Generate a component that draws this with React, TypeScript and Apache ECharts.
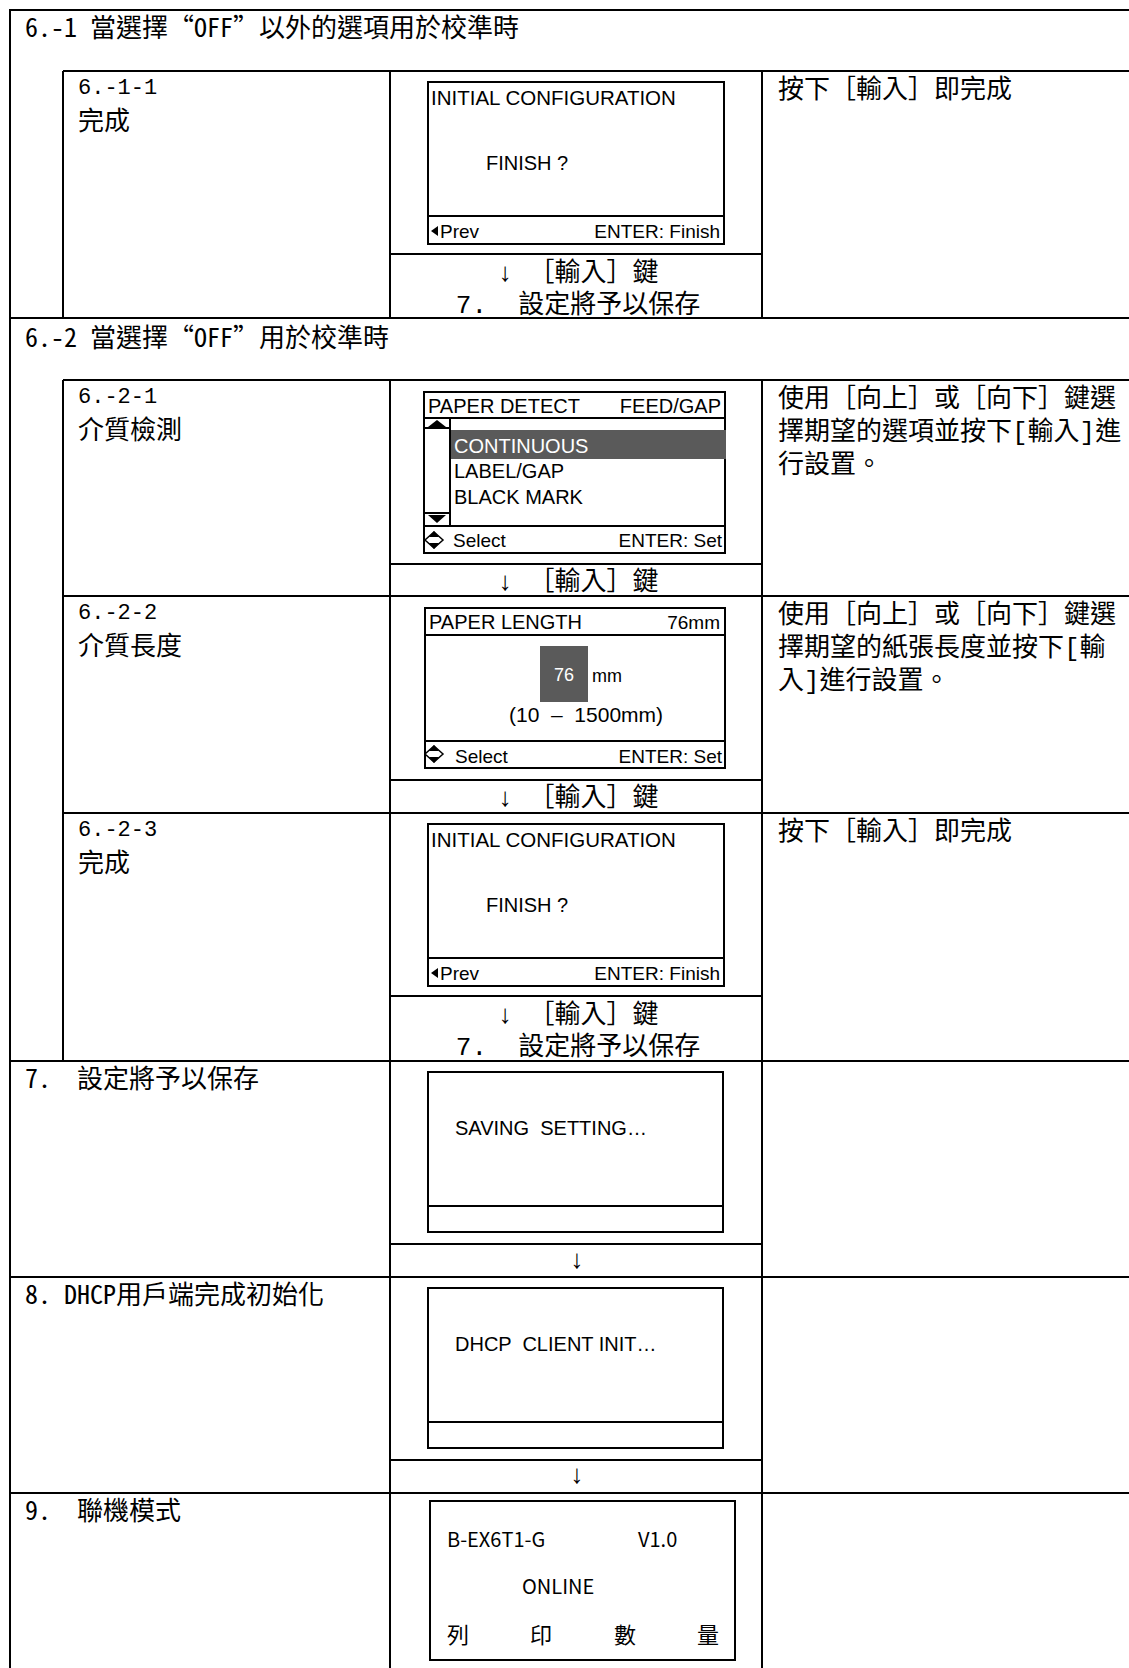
import React, { useEffect, useRef } from "react";
import * as echarts from "echarts";

// ---- content (texts) ----
const sectionHeaders = ["6.-1 當選擇“OFF”以外的選項用於校準時", "6.-2 當選擇“OFF”用於校準時"];
const stepLabels = [
  ["6.-1-1", "完成"],
  ["6.-2-1", "介質檢測"],
  ["6.-2-2", "介質長度"],
  ["6.-2-3", "完成"],
];
const stepNotes = [
  ["按下［輸入］即完成"],
  ["使用［向上］或［向下］鍵選", "擇期望的選項並按下[輸入]進", "行設置。"],
  ["使用［向上］或［向下］鍵選", "擇期望的紙張長度並按下[輸", "入]進行設置。"],
  ["按下［輸入］即完成"],
];
const stepArrows = [
  ["↓ ［輸入］鍵", "7.  設定將予以保存"],
  ["↓ ［輸入］鍵"],
  ["↓ ［輸入］鍵"],
  ["↓ ［輸入］鍵", "7.  設定將予以保存"],
];
const finalLabels = ["7.  設定將予以保存", "8. DHCP用戶端完成初始化", "9.  聯機模式"];
const finalArrows = ["↓", "↓"];
const finishScreen = ["INITIAL CONFIGURATION", "FINISH ?", "Prev", "ENTER: Finish"];
const paperDetectTitle = ["PAPER DETECT", "FEED/GAP"];
const paperDetectOptions = ["CONTINUOUS", "LABEL/GAP", "BLACK MARK"];
const selectFooter = ["Select", "ENTER: Set"];
const paperLengthTitle = ["PAPER LENGTH", "76mm"];
const paperLengthValue = ["76", "mm", "(10  –  1500mm)"];
const statusScreens = ["SAVING  SETTING…", "DHCP  CLIENT INIT…"];
const onlineScreen = ["B-EX6T1-G", "V1.0", "ONLINE"];
const onlineCounter = ["列", "印", "數", "量"];

// ---- layout ----
const W = 1129;
const H = 1668;
const X0 = 10, X1 = 63, XC1 = 390, XC2 = 762, XR = 1129;
const CJK = '"Noto Sans Mono CJK TC", "Noto Sans CJK TC", sans-serif';
const CJKM = '"Liberation Mono", "Noto Sans Mono CJK TC", "Noto Sans CJK TC", sans-serif';
const SANS = '"Liberation Sans", Arial, sans-serif';
const CJKS = '"Noto Sans CJK TC", sans-serif';
const GRAY = "#5a5a5a";
const FS = 26;

export default function App() {
  const ref = useRef<HTMLDivElement>(null);
  useEffect(() => {
    const chart = echarts.init(ref.current!, null, { renderer: "svg" });
    const els: any[] = [];
    const hl = (x1: number, x2: number, y: number, w = 2) =>
      els.push({ type: "line", silent: true, shape: { x1, y1: y, x2, y2: y }, style: { stroke: "#000", lineWidth: w } });
    const vl = (x: number, y1: number, y2: number, w = 2) =>
      els.push({ type: "line", silent: true, shape: { x1: x, y1, x2: x, y2 }, style: { stroke: "#000", lineWidth: w } });
    const box = (x: number, y: number, w: number, h: number, fill = "#fff", stroke: any = "#000") =>
      els.push({ type: "rect", silent: true, shape: { x, y, width: w, height: h }, style: { fill, stroke, lineWidth: 2 } });
    const poly = (pts: number[][], fill = "#000", stroke: any = null) =>
      els.push({ type: "polygon", silent: true, shape: { points: pts }, style: { fill, stroke, lineWidth: 1.5 } });
    const txt = (s: string, x: number, y: number, font: string, align = "left", fill = "#000") =>
      els.push({ type: "text", silent: true, x, y, style: { text: s, font, fill, align, verticalAlign: "middle" } });

    // background
    els.push({ type: "rect", silent: true, shape: { x: 0, y: 0, width: W, height: H }, style: { fill: "#fff" } });

    // ---- table grid ----
    hl(X0, XR, 10);
    hl(X1, XR, 71);
    hl(XC1, XC2, 254);
    hl(X0, XR, 318);
    hl(X1, XR, 380);
    hl(XC1, XC2, 564);
    hl(X1, XR, 596);
    hl(XC1, XC2, 780);
    hl(X1, XR, 813);
    hl(XC1, XC2, 996);
    hl(X0, XR, 1061);
    hl(XC1, XC2, 1244);
    hl(X0, XR, 1277);
    hl(XC1, XC2, 1460);
    hl(X0, XR, 1493);
    vl(X0, 9, H);
    vl(X1, 71, 318);
    vl(X1, 380, 1061);
    [XC1, XC2].forEach((x) => {
      vl(x, 71, 318);
      vl(x, 380, H);
    });

    const F = `${FS}px ${CJK}`;
    const FM = `${FS}px ${CJKM}`;
    const FL = `22px "Liberation Mono", monospace`;

    // ---- section headers ----
    txt(sectionHeaders[0], 25, 25, F);
    txt(sectionHeaders[1], 25, 335, F);

    // ---- step rows ----
    const rowTops = [71, 380, 596, 813];
    const arrowTops = [254, 564, 780, 996];
    stepLabels.forEach((lab, i) => {
      const t = rowTops[i];
      txt(lab[0], 78, t + 17, FL);
      txt(lab[1], 78, t + 52, FM);
      stepNotes[i].forEach((line, j) => txt(line, 778, t + 20 + j * 33, FM));
      const arr = stepArrows[i];
      if (arr.length > 1) {
        arr.forEach((line, j) => txt(line, 578, arrowTops[i] + 20 + j * 32, FM, "center"));
      } else {
        txt(arr[0], 578, arrowTops[i] + 19, FM, "center");
      }
    });

    // ---- finish screens (6-1-1 and 6-2-3) ----
    [82, 824].forEach((by) => {
      box(428, by, 296, 162);
      hl(428, 724, by + 134);
      txt(finishScreen[0], 431, by + 15, `20.5px ${SANS}`);
      txt(finishScreen[1], 486, by + 81, `20px ${SANS}`);
      poly([[431, by + 149], [438, by + 144], [438, by + 154]]);
      txt(finishScreen[2], 440, by + 149, `19px ${SANS}`);
      txt(finishScreen[3], 720, by + 149, `19px ${SANS}`, "right");
    });

    // select icon
    const selIcon = (cx: number, cy: number) => {
      poly([[cx, cy - 8], [cx + 9, cy], [cx, cy + 8], [cx - 9, cy]], "#fff", "#000");
      poly([[cx - 5, cy - 3], [cx + 5, cy - 3], [cx, cy - 9]]);
      poly([[cx - 5, cy + 3], [cx + 5, cy + 3], [cx, cy + 9]]);
    };

    // ---- paper detect screen ----
    box(424, 392, 301, 161);
    hl(424, 725, 418);
    vl(450, 418, 526);
    hl(424, 450, 428);
    hl(424, 450, 513);
    poly([[428, 427], [446, 427], [437, 420]]);
    poly([[428, 515], [446, 515], [437, 523]]);
    els.push({ type: "rect", silent: true, shape: { x: 451, y: 430, width: 275, height: 29 }, style: { fill: GRAY } });
    txt(paperDetectTitle[0], 428, 406, `20px ${SANS}`);
    txt(paperDetectTitle[1], 721, 406, `20px ${SANS}`, "right");
    txt(paperDetectOptions[0], 454, 446, `20px ${SANS}`, "left", "#fff");
    txt(paperDetectOptions[1], 454, 471, `20px ${SANS}`);
    txt(paperDetectOptions[2], 454, 497, `20px ${SANS}`);
    hl(424, 725, 526);
    selIcon(434, 540);
    txt(selectFooter[0], 453, 540, `19px ${SANS}`);
    txt(selectFooter[1], 722, 540, `19px ${SANS}`, "right");

    // ---- paper length screen ----
    box(425, 608, 300, 160);
    hl(425, 725, 635);
    txt(paperLengthTitle[0], 429, 622, `20px ${SANS}`);
    txt(paperLengthTitle[1], 720, 622, `19px ${SANS}`, "right");
    els.push({ type: "rect", silent: true, shape: { x: 540, y: 646, width: 48, height: 56 }, style: { fill: GRAY } });
    txt(paperLengthValue[0], 564, 675, `18px ${SANS}`, "center", "#fff");
    txt(paperLengthValue[1], 592, 676, `18px ${SANS}`);
    txt(paperLengthValue[2], 586, 714, `21px ${SANS}`, "center");
    hl(425, 725, 741);
    selIcon(434, 754);
    txt(selectFooter[0], 455, 756, `19px ${SANS}`);
    txt(selectFooter[1], 722, 756, `19px ${SANS}`, "right");

    // ---- final rows ----
    const finalTops = [1061, 1277, 1493];
    finalLabels.forEach((s, i) => txt(s, 25, finalTops[i] + 15, F));
    finalArrows.forEach((s, i) => txt(s, 577, [1261, 1476][i], FM, "center"));
    statusScreens.forEach((s, i) => {
      const by = [1072, 1288][i];
      box(428, by, 295, 160);
      hl(428, 723, by + 134);
      txt(s, 455, by + 56, `20px ${SANS}`);
    });
    box(430, 1501, 305, 159);
    txt(onlineScreen[0], 447, 1538, `20px ${CJKS}`);
    txt(onlineScreen[1], 638, 1538, `20px ${CJKS}`);
    txt(onlineScreen[2], 522, 1585, `20px ${CJKS}`);
    onlineCounter.forEach((c, i) => txt(c, [458, 541, 625, 708][i], 1633, `22px ${CJKS}`, "center"));

    chart.setOption({ animation: false, graphic: { elements: els } });
    return () => chart.dispose();
  }, []);
  return (
    <div
      ref={ref}
      style={{ position: "absolute", left: 0, top: 0, width: W, height: H, background: "#fff" }}
    />
  );
}
